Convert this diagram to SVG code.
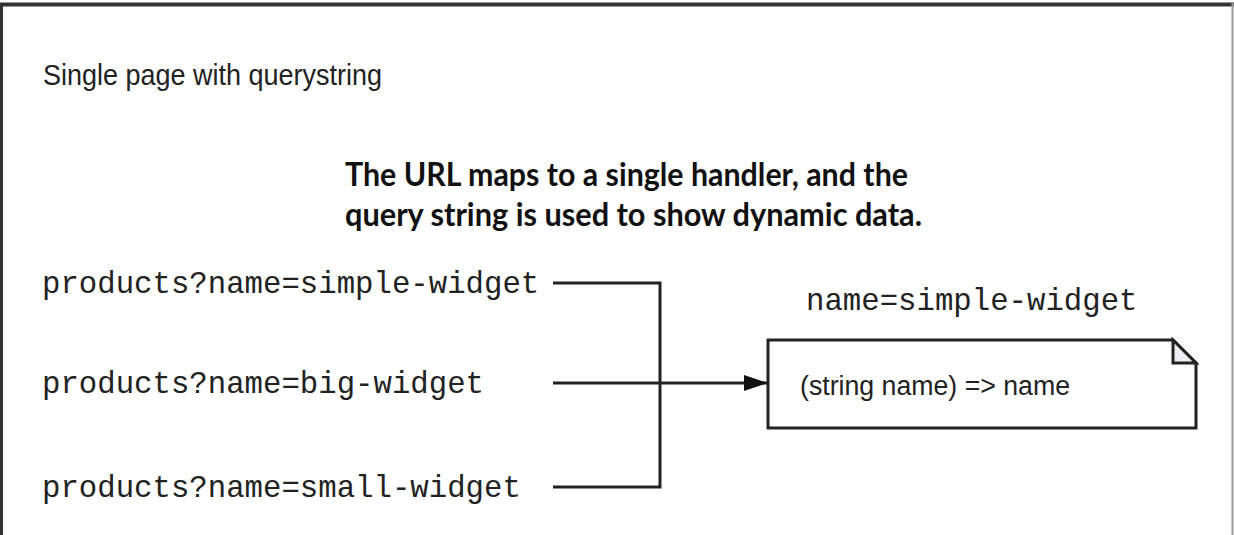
<svg xmlns="http://www.w3.org/2000/svg" width="1234" height="535" viewBox="0 0 1234 535">
  <defs>
    <marker id="arrow" viewBox="0 0 24 16" refX="24" refY="8" markerWidth="24" markerHeight="16" markerUnits="userSpaceOnUse" orient="auto">
      <path d="M0,0 L24,8 L0,16 Z" fill="#111"/>
    </marker>
    <style>
      .mono { font-family: "Liberation Mono", "Courier New", monospace; font-size: 30.7px; fill: #222; }
      .sans { font-family: "Liberation Sans", Arial, sans-serif; fill: #222; }
      .head { font-family: Lato, "Liberation Sans", sans-serif; font-weight: bold; font-size: 33px; fill: #111; }
      .conn { fill: none; stroke: #222; stroke-width: 3; }
      .box { fill: #fff; stroke: #222; stroke-width: 3; }
    </style>
  </defs>
  <rect x="0" y="0" width="1234" height="535" fill="#fff"/>
  <g id="frame">
    <line x1="0" y1="4.5" x2="1234" y2="4.5" stroke="#333" stroke-width="4"/>
    <line x1="1.5" y1="3" x2="1.5" y2="535" stroke="#333" stroke-width="3"/>
    <line x1="1232.5" y1="3" x2="1232.5" y2="535" stroke="#999" stroke-width="2"/>
  </g>
  <g id="title">
    <text class="sans" x="43" y="85" font-size="29" textLength="339" lengthAdjust="spacingAndGlyphs">Single page with querystring</text>
  </g>
  <g id="heading">
    <text class="head" x="345" y="186" textLength="563" lengthAdjust="spacingAndGlyphs">The URL maps to a single handler, and the</text>
    <text class="head" x="345" y="226" textLength="577" lengthAdjust="spacingAndGlyphs">query string is used to show dynamic data.</text>
  </g>
  <g id="url-simple">
    <text class="mono" x="42" y="293">products?name=simple-widget</text>
  </g>
  <g id="url-big">
    <text class="mono" x="42" y="393">products?name=big-widget</text>
  </g>
  <g id="url-small">
    <text class="mono" x="42" y="497">products?name=small-widget</text>
  </g>
  <g id="connectors">
    <polyline class="conn" points="553,283 660,283 660,487 553,487"/>
    <line class="conn" x1="553" y1="383" x2="768" y2="383" marker-end="url(#arrow)"/>
  </g>
  <g id="handler">
    <text class="mono" x="806" y="310">name=simple-widget</text>
    <path class="box" d="M768,340 L1173,340 L1196,363 L1196,428 L768,428 Z"/>
    <path d="M1173,340 L1173,363 L1196,363 Z" fill="#eeeef4" stroke="#222" stroke-width="3" stroke-linejoin="miter"/>
    <text class="sans" x="800" y="395" font-size="27" textLength="270" lengthAdjust="spacingAndGlyphs">(string name) =&gt; name</text>
  </g>
</svg>
